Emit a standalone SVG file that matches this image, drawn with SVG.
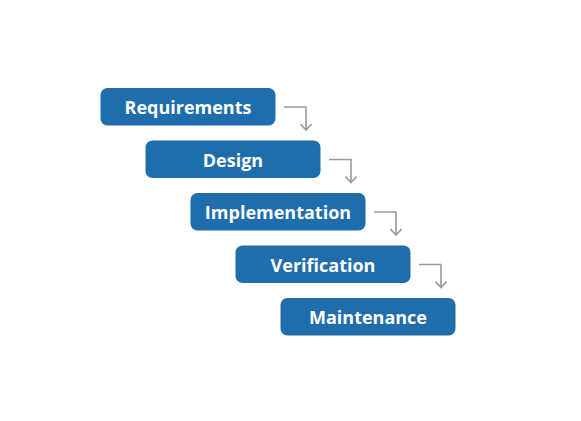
<svg xmlns="http://www.w3.org/2000/svg" width="581" height="421" viewBox="0 0 581 421">
<defs>
<style>
.box{fill:#1f6dab;}
.lbl{font-family:"Open Sans","Noto Sans",sans-serif;font-weight:bold;font-size:18px;fill:#ffffff;text-anchor:middle;dominant-baseline:central;}
.conn{fill:none;stroke:#9a9a9a;stroke-width:1.6;marker-end:url(#arr);}
</style>
<marker id="arr" viewBox="0 0 12 12" refX="9" refY="6" markerWidth="12" markerHeight="12" markerUnits="userSpaceOnUse" orient="auto">
<path d="M3,0.5 L9,6 L3,11.5" fill="none" stroke="#9a9a9a" stroke-width="1.6"/>
</marker>
</defs>
<rect width="581" height="421" fill="#ffffff"/>
<g id="connectors">
<path class="conn" d="M284,107 H306 V130"/>
<path class="conn" d="M329,159.5 H351 V182.5"/>
<path class="conn" d="M374,212 H396 V235"/>
<path class="conn" d="M419,264.5 H441 V287.5"/>
</g>
<g id="requirements"><rect class="box" x="100.5" y="88" width="175" height="37.5" rx="7"/><text class="lbl" x="188" y="107">Requirements</text></g>
<g id="design"><rect class="box" x="145.5" y="140.5" width="175" height="37.5" rx="7"/><text class="lbl" x="233" y="159.5">Design</text></g>
<g id="implementation"><rect class="box" x="190.5" y="193" width="175" height="37.5" rx="7"/><text class="lbl" x="278" y="212">Implementation</text></g>
<g id="verification"><rect class="box" x="235.5" y="245.5" width="175" height="37.5" rx="7"/><text class="lbl" x="323" y="264.5">Verification</text></g>
<g id="maintenance"><rect class="box" x="280.5" y="298" width="175" height="37.5" rx="7"/><text class="lbl" x="368" y="317">Maintenance</text></g>
</svg>
